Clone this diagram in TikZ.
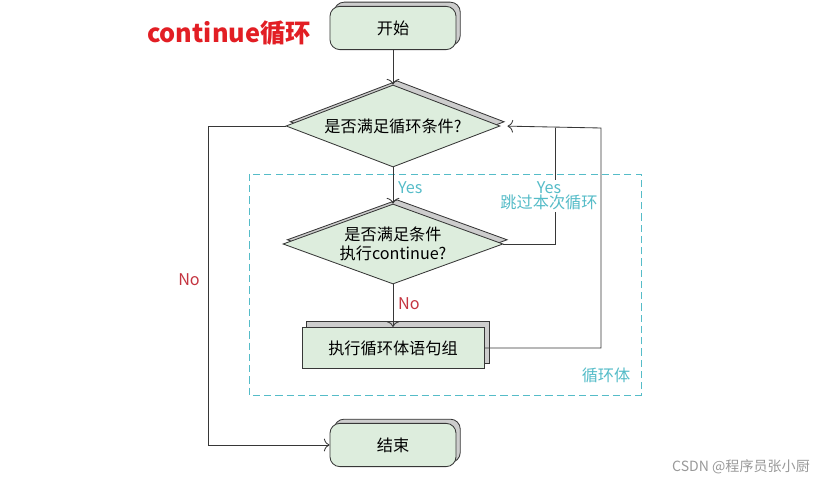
\documentclass[tikz,border=0pt]{standalone}
\usepackage{fontspec}
\setmainfont{Noto Sans CJK SC}
\usetikzlibrary{shapes.geometric,shadows,arrows.meta}
\definecolor{boxgreen}{RGB}{221,237,221}
\definecolor{shadowgray}{RGB}{205,205,205}
\definecolor{loopcyan}{RGB}{85,188,200}
\definecolor{titlered}{RGB}{226,30,36}
\definecolor{nored}{RGB}{196,52,64}
\definecolor{linegray}{RGB}{55,55,55}
\begin{document}
\begin{tikzpicture}[x=0.025cm, y=-0.025cm, line width=0.6pt, >={To[length=4pt,width=9pt]},
    terminal/.style={draw=linegray, fill=boxgreen, rounded corners=7pt,
        minimum width=3.15cm, minimum height=1.08cm, font=\fontsize{11.5}{13}\selectfont,
        copy shadow={shadow xshift=3pt, shadow yshift=3pt, fill=shadowgray, draw=linegray}},
    decision/.style={diamond, draw=linegray, fill=boxgreen, inner sep=0pt, aspect=2.6,
        font=\fontsize{11.5}{14}\selectfont, align=center,
        copy shadow={shadow xshift=3pt, shadow yshift=3pt, fill=shadowgray, draw=linegray}},
    process/.style={draw=linegray, fill=boxgreen, minimum width=4.55cm, minimum height=1.03cm,
        font=\fontsize{11.5}{13}\selectfont,
        copy shadow={shadow xshift=3.5pt, shadow yshift=4pt, fill=shadowgray, draw=linegray}},
    yeslabel/.style={text=loopcyan, font=\fontsize{11.5}{13}\selectfont, align=center},
    nolabel/.style={text=nored, font=\fontsize{11.5}{13}\selectfont}]
    \useasboundingbox (0,0) rectangle (828,484);

    % 标题
    \node[text=titlered, font=\fontsize{18}{20}\selectfont\bfseries] (title) at (229,33) {continue循环};

    % 循环体虚线框
    \draw[loopcyan, dashed, dash pattern=on 5pt off 3pt] (249,174) rectangle (641,395);
    \node[text=loopcyan, font=\fontsize{11.5}{13}\selectfont] (looplabel) at (606,375) {循环体};

    % 流程节点
    \node[terminal] (start) at (393,28) {开始};
    \node[decision, minimum width=5.35cm, minimum height=2.05cm] (cond) at (393,126) {是否满足循环条件?};
    \node[decision, minimum width=5.5cm, minimum height=2.0cm] (cont) at (393,244) {是否满足条件\\执行continue?};
    \node[process] (body) at (393,348) {执行循环体语句组};
    \node[terminal] (stop) at (393,445) {结束};

    % 拐点
    \coordinate (jyes) at (555,128);
    \coordinate (jback) at (601,128);

    % 连线
    \draw[->, linegray] (start) -- (cond);
    \draw[->, linegray] (cond) -- (cont) node[yeslabel, pos=0.55, right] {Yes};
    \draw[->, linegray] (cont) -- (body) node[nolabel, pos=0.45, right] {No};
    \draw[->, linegray] (cond.west) -- ++(-77,0) |- (stop.west);
    \node[nolabel] (nolabel) at (189,280) {No};
    \draw[linegray] (cont.east) -| (jyes);
    \draw[->, linegray, shorten >=5pt] (body.east) -| (jback) -- (cond.east);
    \node[yeslabel, fill=white, inner sep=1pt] (skip) at (549,196) {Yes\\[-2pt]跳过本次循环};

    % 水印
    \node[text=black!40, font=\fontsize{10}{12}\selectfont] (mark) at (741,467) {CSDN @程序员张小厨};
\end{tikzpicture}
\end{document}
